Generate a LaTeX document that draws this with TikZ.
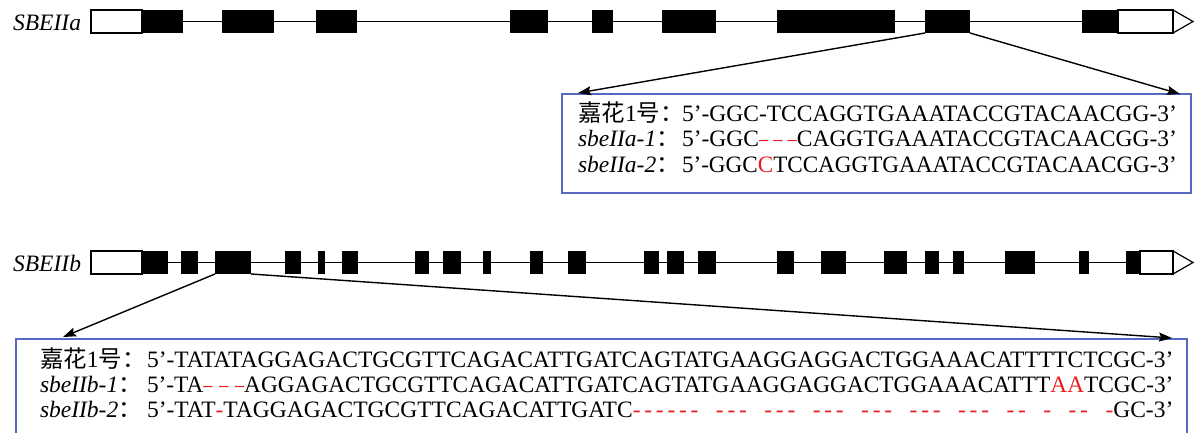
\documentclass[tikz,border=0pt]{standalone}
\usepackage{fontspec}
\usepackage{graphicx}
\setmainfont{Liberation Serif}
\newfontfamily\cjk{Noto Sans CJK SC}
\usetikzlibrary{arrows.meta}
\definecolor{boxblue}{RGB}{85,105,195}
\definecolor{mutred}{RGB}{232,30,30}
\newlength\gapw
\newlength\roww
\newcommand\redgap[2]{\settowidth\gapw{#1}\makebox[\gapw][s]{\color{mutred}#2}}
\newcommand\dk{\kern.16em}
\newcommand\gd{\scalebox{0.78}[1]{–}}
\tikzset{
  exon/.style={fill=black, draw=none, inner sep=0pt, outer sep=0pt, minimum height=23pt},
  utr/.style={fill=white, draw=black, line width=1.2pt, inner sep=0pt, outer sep=0pt, minimum height=23pt},
  intron/.style={line width=1.3pt, black},
  conn/.style={line width=1.4pt, black, -{Stealth[length=13pt,width=9pt,inset=2pt]}},
  seqbox/.style={draw=boxblue, line width=1.3pt, inner sep=0pt, outer sep=0pt},
  txt/.style={inner sep=0pt, outer sep=0pt, anchor=base west},
  gene/.style={inner sep=0pt, outer sep=0pt, anchor=base east, font=\fontsize{23.5}{27}\selectfont\itshape},
}
\begin{document}
\begin{tikzpicture}[x=1pt,y=-1pt,font=\fontsize{23.5}{27}\selectfont]
\useasboundingbox (0,0) rectangle (1197,432);

% ---------------- SBEIIa ----------------
\node[gene] (la) at (81,30.5) {SBEIIa};
\node[utr, minimum width=51pt] (a5) at (116.5,21.5) {};
\node[utr, minimum width=55pt] (a3) at (1145.5,21.5) {};
\coordinate (a3tip) at (1193,21.5);
\draw[intron] (a5.east) -- (a3.west);
\draw[line width=1.2pt, line join=miter] (a3.north east) -- (a3tip) -- (a3.south east);
\foreach \s/\e [count=\i] in {142/183,222/274,316/357,510/548,592/613,662/716,777/895,925/970,1082/1118}{
  \node[exon, minimum width={(\e-\s)*1pt}] (a\i) at ({(\s+\e)/2},21.5) {};
}

% ---------------- SBEIIb ----------------
\node[gene] (lb) at (81,271.5) {SBEIIb};
\node[utr, minimum width=51pt] (b5) at (116.5,262.5) {};
\node[utr, minimum width=33pt] (b3) at (1156.5,262.5) {};
\coordinate (b3tip) at (1193,262.5);
\draw[intron] (b5.east) -- (b3.west);
\draw[line width=1.2pt, line join=miter] (b3.north east) -- (b3tip) -- (b3.south east);
\foreach \s/\e [count=\i] in {142/168,181/198,215/251,285/301,318/325,342/358,415/429,443/461,483/491,530/543,568/586,644/659,667/684,698/716,777/794,821/846,884/907,925/939,953/964,1005/1035,1079/1089,1126/1140}{
  \node[exon, minimum width={(\e-\s)*1pt}] (b\i) at ({(\s+\e)/2},262.5) {};
}

% ---------------- boxes ----------------
\node[seqbox, minimum width=629pt, minimum height=99pt] (box1) at (876.5,143.5) {};
\node[seqbox, minimum width=1171pt, minimum height=97pt] (box2) at (601.5,387.5) {};

\coordinate (t1l) at (578,93);
\coordinate (t1r) at (1180,94);
\coordinate (t2l) at (63,337);
\coordinate (t2r) at (1172,338);
\draw[conn] (a8.south west) -- (t1l);
\draw[conn] (a8.south east) -- (t1r);
\draw[conn] (b3.south west) -- (t2l);
\draw[conn] (b3.south east) -- (t2r);

% box 1 text
\node[txt] (l11) at (578,121) {{\cjk 嘉花}1{\cjk 号：}};
\node[txt] (s11) at (682,121) {5’-GGC-TCCAGGTGAAATACCGTACAACGG-3’};
\node[txt] (l12) at (578,146.5) {\textit{sbeIIa-1}{\cjk ：}};
\node[txt] (s12) at (682,146.5) {5’-GGC\redgap{-TC}{\gd\hfil\gd\hfil\gd}CAGGTGAAATACCGTACAACGG-3’};
\node[txt] (l13) at (578,172) {\textit{sbeIIa-2}{\cjk ：}};
\node[txt] (s13) at (682,172) {\settowidth\roww{5’-GGC-TCCAGGTGAAATACCGTACAACGG-3’}\resizebox{\roww}{\height}{5’-GGC\textcolor{mutred}{C}TCCAGGTGAAATACCGTACAACGG-3’}};

% box 2 text
\node[txt] (l21) at (40,367) {{\cjk 嘉花}1{\cjk 号：}};
\node[txt] (s21) at (147,367) {5’-TATATAGGAGACTGCGTTCAGACATTGATCAGTATGAAGGAGGACTGGAAACATTTTCTCGC-3’};
\node[txt] (l22) at (40,392) {\textit{sbeIIb-1}{\cjk ：}};
\node[txt] (s22) at (147,392) {\settowidth\roww{5’-TATATAGGAGACTGCGTTCAGACATTGATCAGTATGAAGGAGGACTGGAAACATTTTCTCGC-3’}\resizebox{\roww}{\height}{5’-TA\redgap{TAT}{\gd\hfil\gd\hfil\gd}AGGAGACTGCGTTCAGACATTGATCAGTATGAAGGAGGACTGGAAACATTT\textcolor{mutred}{AA}TCGC-3’}};
\node[txt] (l23) at (40,417) {\textit{sbeIIb-2}{\cjk ：}};
\node[txt] (s23) at (147,417) {\settowidth\roww{5’-TATATAGGAGACTGCGTTCAGACATTGATCAGTATGAAGGAGGACTGGAAACATTTTCTCGC-3’}\makebox[\roww][s]{5’-TAT\textcolor{mutred}{-}TAGGAGACTGCGTTCAGACATTGATC\textcolor{mutred}{-\dk-\dk-\dk-\dk-\dk-\hfil-\dk-\dk-\hfil-\dk-\dk-\hfil-\dk-\dk-\hfil-\dk-\dk-\hfil-\dk-\dk-\hfil-\dk-\dk-\hfil-\dk-\hfil-\hfil-\dk-\hfil-}GC-3’}};
\end{tikzpicture}
\end{document}
